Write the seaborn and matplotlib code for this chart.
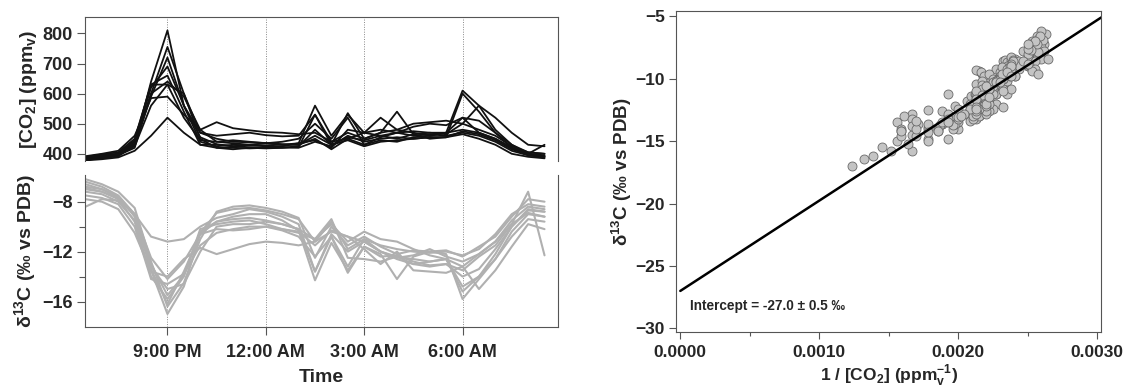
import numpy as np
import pandas as pd
import matplotlib
matplotlib.use("Agg")
import matplotlib.pyplot as plt
import seaborn as sns

# sampling times, hours after midnight of the first evening (24 = midnight)
hours = [18.5, 19.0, 19.5, 20.0, 20.5, 21.0, 21.5, 22.0, 22.5, 23.0,
         23.5, 24.0, 24.5, 25.0, 25.5, 26.0, 26.5, 27.0, 27.5, 28.0,
         28.5, 29.0, 29.5, 30.0, 30.5, 31.0, 31.5, 32.0, 32.5]

# [CO2] (ppmv), one list per night
co2_night1 = [380, 385, 392, 430, 640, 810, 560, 440, 425, 430, 428, 425, 422, 420, 440,
              425, 460, 440, 450, 455, 450, 455, 455, 465, 450, 430, 400, 390, 385]
co2_night2 = [385, 390, 395, 420, 600, 755, 600, 450, 420, 415, 420, 418, 420, 425, 480,
              430, 455, 445, 460, 470, 460, 465, 460, 470, 460, 440, 410, 395, 390]
co2_night3 = [388, 395, 400, 440, 620, 690, 560, 470, 460, 465, 470, 462, 458, 460, 530,
              440, 470, 450, 470, 480, 470, 460, 470, 480, 470, 450, 420, 400, 392]
co2_night4 = [390, 398, 405, 450, 630, 660, 540, 430, 430, 425, 430, 435, 430, 435, 445,
              420, 480, 470, 460, 450, 465, 470, 465, 500, 480, 460, 425, 405, 400]
co2_night5 = [382, 388, 398, 435, 600, 640, 590, 480, 440, 435, 430, 428, 430, 430, 450,
              415, 450, 430, 445, 440, 455, 460, 470, 520, 510, 470, 430, 400, 395]
co2_night6 = [385, 392, 400, 445, 630, 630, 600, 470, 450, 440, 438, 436, 432, 430, 460,
              430, 445, 425, 440, 445, 450, 455, 455, 475, 465, 445, 415, 398, 392]
co2_night7 = [392, 400, 410, 460, 585, 590, 530, 480, 505, 485, 478, 472, 470, 465, 470,
              440, 450, 470, 520, 480, 500, 505, 510, 500, 560, 520, 470, 430, 425]
co2_night8 = [378, 382, 388, 410, 460, 520, 470, 430, 420, 420, 418, 420, 420, 422, 530,
              430, 535, 450, 470, 540, 465, 450, 455, 600, 540, 470, 420, 395, 388]
co2_night9 = [383, 390, 396, 425, 560, 630, 520, 445, 440, 445, 440, 435, 440, 450, 500,
              450, 520, 430, 455, 470, 475, 470, 470, 610, 560, 480, 430, 405, 400]
co2_night10 = [386, 392, 400, 432, 590, 720, 560, 455, 432, 425, 422, 420, 425, 435, 560,
               460, 530, 470, 480, 470, 490, 500, 495, 520, 470, 450, 420, 400, 430]

# d13C (permil vs PDB), one list per night
d13c_night1 = [-6.4, -6.8, -7.5, -9.0, -13.5, -17.0, -14.8, -10.5, -8.9, -8.6, -8.5, -8.7, -9.0, -9.4, -11.2,
               -9.6, -11.8, -11.0, -11.5, -11.8, -12.0, -12.1, -12.0, -12.3, -11.8, -10.6, -9.0, -8.2, -8.4]
d13c_night2 = [-6.2, -6.6, -7.2, -8.5, -12.8, -16.4, -14.5, -11.0, -8.8, -8.4, -8.3, -8.5, -8.8, -9.3, -12.5,
               -10.0, -11.5, -10.8, -11.6, -12.2, -11.9, -12.0, -11.9, -12.4, -11.6, -10.8, -9.2, -7.8, -8.0]
d13c_night3 = [-6.8, -7.0, -7.6, -9.2, -13.0, -15.5, -13.9, -10.4, -9.6, -9.4, -9.3, -9.5, -9.8, -10.2, -13.6,
               -10.6, -12.0, -11.2, -12.0, -12.5, -12.3, -11.8, -12.4, -12.8, -12.2, -11.2, -9.5, -8.4, -8.6]
d13c_night4 = [-7.0, -7.2, -7.8, -9.6, -14.0, -15.8, -14.0, -10.2, -9.8, -9.6, -9.5, -9.8, -10.2, -10.5, -11.0,
               -9.4, -12.5, -12.6, -12.8, -12.4, -13.0, -13.2, -13.0, -14.0, -13.4, -11.8, -10.0, -8.7, -8.8]
d13c_night5 = [-7.2, -7.4, -8.0, -9.5, -13.2, -15.0, -14.6, -12.0, -10.0, -9.8, -9.8, -9.6, -9.8, -10.2, -11.0,
               -9.8, -11.2, -10.4, -11.0, -11.2, -11.8, -12.3, -12.6, -14.8, -14.0, -12.6, -10.4, -9.0, -9.2]
d13c_night6 = [-7.5, -7.7, -8.2, -10.0, -14.2, -14.6, -13.8, -11.5, -10.5, -10.2, -10.0, -10.0, -10.2, -10.4, -11.5,
               -10.3, -10.8, -11.2, -12.0, -12.4, -12.6, -12.8, -12.6, -13.2, -12.2, -11.2, -9.8, -8.9, -9.2]
d13c_night7 = [-7.8, -8.0, -8.6, -10.5, -13.6, -14.0, -12.6, -11.7, -12.2, -11.8, -11.4, -11.2, -11.3, -11.5, -11.2,
               -10.4, -10.8, -11.8, -13.0, -12.0, -13.5, -13.6, -13.7, -13.2, -15.0, -13.5, -11.6, -9.8, -10.2]
d13c_night8 = [-8.4, -7.8, -7.9, -9.0, -10.8, -11.2, -11.0, -10.0, -9.3, -9.0, -8.6, -8.8, -9.2, -9.8, -13.6,
               -10.8, -13.7, -11.6, -12.2, -14.2, -12.4, -12.0, -12.2, -15.8, -14.2, -12.6, -10.8, -9.4, -9.6]
d13c_night9 = [-6.9, -7.2, -7.7, -9.0, -12.5, -14.2, -12.8, -10.6, -10.2, -10.3, -10.2, -10.0, -10.3, -10.8, -12.4,
               -10.8, -13.2, -11.0, -12.0, -12.6, -13.0, -12.8, -12.6, -15.2, -14.0, -12.2, -10.0, -8.6, -8.8]
d13c_night10 = [-6.6, -7.0, -7.6, -9.1, -13.4, -16.2, -13.6, -10.6, -9.6, -9.2, -9.0, -9.0, -9.5, -10.3, -14.3,
                -11.3, -13.5, -11.6, -12.4, -12.3, -12.8, -13.1, -13.0, -13.5, -12.4, -11.5, -9.8, -7.2, -12.3]

# Keeling plot fit
fit_intercept = -27.0
fit_slope = 7230.0
fit_x_end = 0.00303

time_ticks = [21, 24, 27, 30]
time_labels = ["9:00 PM", "12:00 AM", "3:00 AM", "6:00 AM"]

co2_all = [co2_night1, co2_night2, co2_night3, co2_night4, co2_night5,
           co2_night6, co2_night7, co2_night8, co2_night9, co2_night10]
d13c_all = [d13c_night1, d13c_night2, d13c_night3, d13c_night4, d13c_night5,
            d13c_night6, d13c_night7, d13c_night8, d13c_night9, d13c_night10]

rows = []
for n, (c, d) in enumerate(zip(co2_all, d13c_all)):
    for h, cv, dv in zip(hours, c, d):
        rows.append({"night": n, "hour": h, "co2": cv, "d13c": dv})
df = pd.DataFrame(rows)
df["inv_co2"] = 1.0 / df["co2"]

sns.set_style("ticks")
plt.rcParams["font.family"] = ["Liberation Sans", "DejaVu Sans"]
plt.rcParams["font.weight"] = "bold"
plt.rcParams["axes.labelweight"] = "bold"

spine_col = "#555555"
dot_style = dict(color="#888888", linestyle=(0, (1, 1.5)), linewidth=0.7, zorder=0)

fig = plt.figure(figsize=(11.46, 3.88), dpi=100)
ax_co2 = fig.add_axes([0.0746, 0.585, 0.412, 0.370])
ax_d13 = fig.add_axes([0.0746, 0.157, 0.412, 0.392])
ax_k = fig.add_axes([0.590, 0.144, 0.371, 0.827])

# --- time series, CO2 ---
sns.lineplot(data=df, x="hour", y="co2", units="night", estimator=None,
             color="#111111", linewidth=1.3, ax=ax_co2, legend=False)
# --- time series, d13C ---
sns.lineplot(data=df, x="hour", y="d13c", units="night", estimator=None,
             color="#b0b0b0", linewidth=1.5, ax=ax_d13, legend=False)

for ax in (ax_co2, ax_d13):
    ax.set_xlim(18.5, 32.9)
    for h in time_ticks:
        ax.axvline(h, **dot_style)
    for s in ax.spines.values():
        s.set_color(spine_col)
        s.set_linewidth(0.8)
    ax.tick_params(direction="out", length=6, width=0.8, color=spine_col, labelsize=13, pad=3)

# bridge the gap between the two panels with the dotted lines
for h in time_ticks:
    ax_co2.axvline(h, ymin=-0.1, ymax=0, clip_on=False, **dot_style)

ax_co2.spines["bottom"].set_visible(False)
ax_d13.spines["top"].set_visible(False)

ax_co2.set_ylim(376, 853)
ax_co2.set_yticks([400, 500, 600, 700, 800])
ax_co2.set_xticks(time_ticks)
ax_co2.tick_params(axis="x", bottom=False, labelbottom=False)
ax_co2.set_xlabel("")
ax_co2.set_ylabel(r"[CO$_\mathregular{2}$] (ppm$_\mathregular{v}$)", fontsize=14)

ax_d13.set_ylim(-18.05, -5.86)
ax_d13.set_yticks([-16, -12, -8])
ax_d13.set_yticks([-14, -10], minor=True)
ax_d13.tick_params(which="minor", direction="out", length=4, width=0.8, color=spine_col)
ax_d13.tick_params(axis="x", pad=6)
ax_d13.set_xticks(time_ticks)
ax_d13.set_xticklabels(time_labels)
ax_d13.set_xlabel("Time", fontsize=14, labelpad=6)
ax_d13.set_ylabel(r"δ$^\mathregular{13}$C (‰ vs PDB)", fontsize=14)

ax_co2.yaxis.set_label_coords(-0.098, 0.5)
ax_d13.yaxis.set_label_coords(-0.098, 0.5)

# --- Keeling plot ---
sns.scatterplot(data=df, x="inv_co2", y="d13c", s=42, color="#c4c4c4",
                edgecolor="#6a6a6a", linewidth=0.6, ax=ax_k, legend=False, zorder=2)
fit_x = np.array([0.0, fit_x_end])
sns.lineplot(x=fit_x, y=fit_intercept + fit_slope * fit_x, color="black",
             linewidth=1.8, ax=ax_k, zorder=3)

ax_k.set_xlim(-0.00003, 0.00303)
ax_k.set_ylim(-30.3, -4.6)
ax_k.set_xticks([0.0, 0.001, 0.002, 0.003])
ax_k.set_xticklabels(["0.0000", "0.0010", "0.0020", "0.0030"])
ax_k.set_xticks([0.0005, 0.0015, 0.0025], minor=True)
ax_k.set_yticks([-30, -25, -20, -15, -10, -5])
for s in ax_k.spines.values():
    s.set_color(spine_col)
    s.set_linewidth(0.8)
ax_k.tick_params(direction="out", length=5, width=0.8, color=spine_col, labelsize=12.5, pad=3)
ax_k.tick_params(axis="x", pad=4)
ax_k.tick_params(which="minor", direction="out", length=3, width=0.8, color=spine_col)
ax_k.set_xlabel(r"1 / [CO$_\mathregular{2}$] (ppm$_\mathregular{v}^\mathregular{-1}$)", fontsize=12.5, labelpad=2)
ax_k.set_ylabel(r"δ$^\mathregular{13}$C (‰ vs PDB)", fontsize=13.5)
ax_k.yaxis.set_label_coords(-0.1, 0.5)
ax_k.text(0.00007, -28.2, "Intercept = -27.0 ± 0.5 ‰", fontsize=9.8,
          fontweight="bold", va="center", ha="left")

fig.savefig("out.png", dpi=100)
plt.close(fig)
